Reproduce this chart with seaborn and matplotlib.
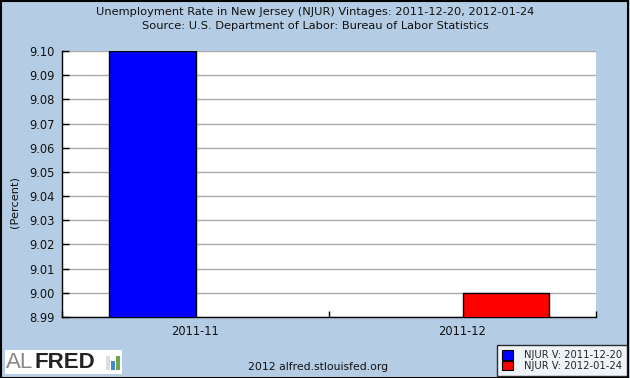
import matplotlib
matplotlib.use("Agg")
import matplotlib.pyplot as plt
import matplotlib.patches as mpatches
import seaborn as sns
import pandas as pd
import numpy as np

# ---- data ----
periods = ["2011-11", "2011-12"]
vintages = ["NJUR V: 2011-12-20", "NJUR V: 2012-01-24"]
vintage_1 = [9.10, np.nan]   # vintage 2011-12-20
vintage_2 = [np.nan, 9.00]   # vintage 2012-01-24
yticks = [8.99, 9.00, 9.01, 9.02, 9.03, 9.04, 9.05, 9.06, 9.07, 9.08, 9.09, 9.10]
colors = ["#0000FF", "#FF0000"]

df = pd.DataFrame({
    "period": periods * 2,
    "vintage": [vintages[0]] * 2 + [vintages[1]] * 2,
    "value": vintage_1 + vintage_2,
})

sns.set_theme(style="white")
plt.rcParams["font.family"] = ["DejaVu Sans"]

bg = "#B4CDE5"
fig = plt.figure(figsize=(6.3, 3.78), dpi=100, facecolor=bg)
W, H = 630, 378
ax = fig.add_axes([62 / W, 1 - 317 / H, (596 - 62) / W, (317 - 51) / H])
ax.set_facecolor("white")

sns.barplot(data=df, x="period", y="value", hue="vintage", palette=colors,
            saturation=1, width=0.65, edgecolor="black", linewidth=1.0, ax=ax,
            legend=False, zorder=3)

ax.set_ylim(8.99, 9.10)
ax.set_yticks(yticks)
ax.set_yticklabels([f"{t:.2f}" for t in yticks], fontsize=8.3, color="#111111")
ax.yaxis.grid(True, color="#AAAAAA", linewidth=1.0, zorder=0)
ax.set_axisbelow(True)
ax.set_xlim(-0.5, 1.5)
ax.set_xticks([0, 1])
ax.set_xticklabels(periods, fontsize=8.3, color="#111111")
ax.tick_params(axis="x", length=0, pad=6)
ax.tick_params(axis="y", direction="in", length=5, width=1, color="black",
               left=True, pad=5)
# minor ticks at category boundaries on the x axis
ax.set_xticks([-0.5, 0.5, 1.5], minor=True)
ax.tick_params(axis="x", which="minor", direction="in", length=4, width=1,
               color="black", bottom=True)
ax.set_xlabel("")
ax.set_ylabel("")
for s in ["top", "right"]:
    ax.spines[s].set_visible(False)
for s in ["left", "bottom"]:
    ax.spines[s].set_color("black")
    ax.spines[s].set_linewidth(1.0)

fig.text(14 / W, 1 - 202 / H, "(Percent)", rotation=90, ha="center", va="center",
         fontsize=8.2, color="#111111")

# titles
fig.text(0.5, 1 - 12 / H, "Unemployment Rate in New Jersey (NJUR) Vintages: 2011-12-20, 2012-01-24",
         ha="center", va="center", fontsize=8.2, color="#111111")
fig.text(0.5, 1 - 26 / H, "Source: U.S. Department of Labor: Bureau of Labor Statistics",
         ha="center", va="center", fontsize=8.2, color="#111111")

# footer
fig.text(318 / W, 1 - 367 / H, "2012 alfred.stlouisfed.org", ha="center", va="center",
         fontsize=7.8, color="#111111")

# legend
handles = [mpatches.Patch(facecolor=c, edgecolor="black", linewidth=0.8) for c in colors]
leg = fig.legend(handles, vintages, loc="lower right",
                 bbox_to_anchor=(627 / W, 1 - 376 / H), fontsize=7.2,
                 frameon=True, fancybox=False, edgecolor="black",
                 handlelength=1.1, handleheight=1.1, handletextpad=1.1,
                 borderpad=0.5, labelspacing=0.05, borderaxespad=0)
leg.get_frame().set_linewidth(1.0)
leg.get_frame().set_facecolor("white")

# ALFRED logo
fig.patches.append(mpatches.Rectangle((5 / W, 1 - 374 / H), 117 / W, 24 / H,
                                      transform=fig.transFigure, facecolor="white",
                                      edgecolor="none"))
fig.text(6 / W, 1 - 362 / H, "AL", ha="left", va="center", fontsize=16,
         color="#888888", family="Liberation Sans")
fig.text(35 / W, 1 - 362 / H, "FRED", ha="left", va="center", fontsize=16,
         color="#222222", weight="bold", family="Liberation Sans")
for x0, h, c in [(106, 14, "#DDDDDD"), (111, 9, "#4A86C5"), (116, 14, "#6AA84F")]:
    fig.patches.append(mpatches.Rectangle((x0 / W, 1 - 370 / H), 4 / W, h / H,
                                          transform=fig.transFigure, facecolor=c,
                                          edgecolor="none"))

# outer frame
fig.patches.append(mpatches.Rectangle((0.5 / W, 0.5 / H), 1 - 2.5 / W, 1 - 1.5 / H,
                                      transform=fig.transFigure, facecolor="none",
                                      edgecolor="black", linewidth=1.5))

fig.savefig("out.png", dpi=100, facecolor=bg)
